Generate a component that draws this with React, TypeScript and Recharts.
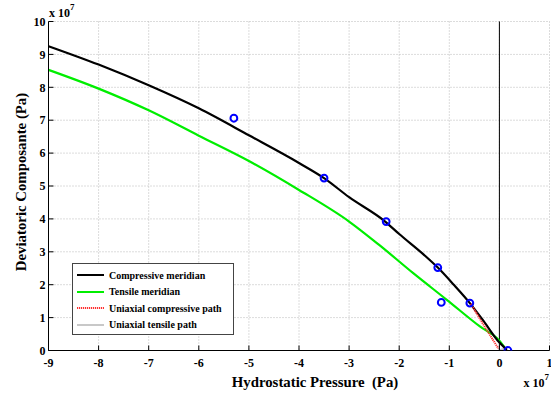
import React from 'react';
import {
  ComposedChart,
  Line,
  Scatter,
  XAxis,
  YAxis,
  CartesianGrid,
  ReferenceLine,
  Label,
} from 'recharts';

// Hydrostatic pressure (x 1e7 Pa) / deviatoric component (x 1e7 Pa)
const compressiveX = [-9, -8, -7, -6, -5, -4, -3.5, -3, -2.28, -2, -1.5, -1.23, -0.9, -0.59, -0.3, 0, 0.15];
const compressiveY = [9.25, 8.69, 8.06, 7.36, 6.54, 5.7, 5.24, 4.66, 3.92, 3.54, 2.9, 2.52, 1.98, 1.44, 0.86, 0.24, 0.02];

const tensileX = [-9, -8, -7, -6, -5, -4, -3, -2.4, -1.72, -1.05, -0.39, 0, 0.11];
const tensileY = [8.53, 7.96, 7.3, 6.53, 5.76, 4.88, 3.92, 3.21, 2.35, 1.54, 0.73, 0.3, 0.08];

const uniCompX = [-0.57, -0.3, -0.02];
const uniCompY = [1.42, 0.74, 0.06];

const uniTenX = [0, 0.1];
const uniTenY = [0, 0.06];

const pointsX = [-5.3, -3.5, -2.26, -1.23, -1.16, -0.59, 0.17];
const pointsY = [7.06, 5.24, 3.92, 2.52, 1.46, 1.44, 0.0];

const xTicks = [-9, -8, -7, -6, -5, -4, -3, -2, -1, 0, 1];
const yTicks = [0, 1, 2, 3, 4, 5, 6, 7, 8, 9, 10];

const legendItems = [
  { label: 'Compressive meridian', color: '#000000', dash: undefined as string | undefined },
  { label: 'Tensile meridian', color: '#00ee00', dash: undefined as string | undefined },
  { label: 'Uniaxial compressive path', color: '#ff3030', dash: '1.2 0.8' },
  { label: 'Uniaxial tensile path', color: '#c8c8c8', dash: undefined as string | undefined },
];

const zip = (xs: number[], ys: number[]) => xs.map((x, i) => ({ x, y: ys[i] }));

const compressive = zip(compressiveX, compressiveY);
const tensile = zip(tensileX, tensileY);
const uniComp = zip(uniCompX, uniCompY);
const uniTen = zip(uniTenX, uniTenY);
const points = zip(pointsX, pointsY);

const FONT = '"Liberation Serif", "Times New Roman", serif';
const tickStyle = { fontWeight: 'bold', fontSize: 12, fill: '#000', fontFamily: 'Liberation Serif' };

export default function App() {
  return (
    <div
      style={{
        position: 'absolute',
        left: 0,
        top: 0,
        width: 551,
        height: 394,
        background: '#fff',
        fontFamily: FONT,
      }}
    >
      <ComposedChart
        width={551}
        height={394}
        margin={{ top: 21.5, right: 1.5, left: 0, bottom: 0 }}
        style={{ fontFamily: FONT }}
      >
        <CartesianGrid stroke="#b8b8b8" strokeDasharray="1 2" />
        <XAxis
          type="number"
          dataKey="x"
          domain={[-9, 1]}
          ticks={xTicks}
          interval={0}
          height={43.5}
          allowDataOverflow
          stroke="#000"
          tickSize={-5}
          tickMargin={12.5}
          tick={tickStyle}
        >
          <Label
            content={(props: any) => {
              const vb = props.viewBox;
              return (
                <g>
                  <text
                    x={vb.x + vb.width / 2 + 16}
                    y={vb.y + 36}
                    textAnchor="middle"
                    style={{ fontFamily: FONT, fontWeight: 'bold', fontSize: 14.8, whiteSpace: 'pre' }}
                    fill="#000"
                  >
                    {'Hydrostatic Pressure  (Pa)'}
                  </text>
                  <text
                    x={vb.x + vb.width - 26}
                    y={vb.y + 36}
                    style={{ fontFamily: FONT, fontWeight: 'bold', fontSize: 12 }}
                    fill="#000"
                  >
                    x 10
                    <tspan dy={-7} style={{ fontSize: 9 }}>7</tspan>
                  </text>
                </g>
              );
            }}
          />
        </XAxis>
        <XAxis
          xAxisId="top"
          orientation="top"
          type="number"
          domain={[-9, 1]}
          ticks={xTicks}
          interval={0}
          height={0}
          allowDataOverflow
          stroke="#000"
          tickSize={-5}
          tickFormatter={() => ''}
        />
        <YAxis
          type="number"
          domain={[0, 10]}
          ticks={yTicks}
          interval={0}
          width={48.5}
          allowDataOverflow
          stroke="#000"
          tickSize={-5}
          tickMargin={8}
          tick={tickStyle}
        >
          <Label
            content={(props: any) => {
              const vb = props.viewBox;
              const cy = vb.y + vb.height / 2 - 4;
              const cx = 21;
              return (
                <g>
                  <text
                    x={cx}
                    y={cy}
                    transform={`rotate(-90, ${cx}, ${cy})`}
                    textAnchor="middle"
                    dominantBaseline="central"
                    style={{ fontFamily: FONT, fontWeight: 'bold', fontSize: 14.8 }}
                    fill="#000"
                  >
                    Deviatoric Composante (Pa)
                  </text>
                  <text
                    x={vb.x + vb.width + 0.5}
                    y={vb.y - 5}
                    style={{ fontFamily: FONT, fontWeight: 'bold', fontSize: 12 }}
                    fill="#000"
                  >
                    x 10
                    <tspan dy={-7} style={{ fontSize: 9 }}>7</tspan>
                  </text>
                </g>
              );
            }}
          />
        </YAxis>
        <YAxis
          yAxisId="right"
          orientation="right"
          type="number"
          domain={[0, 10]}
          ticks={yTicks}
          interval={0}
          width={0}
          allowDataOverflow
          stroke="#000"
          tickSize={-5}
          tickFormatter={() => ''}
        />
        <ReferenceLine x={0} stroke="#000" strokeWidth={1} />
        <Line
          data={uniTen}
          dataKey="y"
          stroke="#c8c8c8"
          strokeWidth={2}
          dot={false}
          isAnimationActive={false}
        />
        <Line
          data={tensile}
          dataKey="y"
          type="monotone"
          stroke="#00ee00"
          strokeWidth={2.2}
          dot={false}
          isAnimationActive={false}
        />
        <Line
          data={compressive}
          dataKey="y"
          type="monotone"
          stroke="#000"
          strokeWidth={2.2}
          dot={false}
          isAnimationActive={false}
        />
        <Line
          data={uniComp}
          dataKey="y"
          stroke="#ff3030"
          strokeWidth={2}
          strokeDasharray="1.2 0.8"
          dot={false}
          isAnimationActive={false}
        />
        <Scatter
          data={points}
          dataKey="y"
          isAnimationActive={false}
          shape={(p: any) => (
            <circle cx={p.cx} cy={p.cy} r={3.4} fill="none" stroke="#0000ff" strokeWidth={2} />
          )}
        />
      </ComposedChart>
      <div
        style={{
          position: 'absolute',
          left: 72,
          top: 263,
          width: 162,
          height: 72,
          boxSizing: 'border-box',
          border: '1px solid #444',
          background: '#fff',
          fontFamily: FONT,
          fontWeight: 'bold',
          fontSize: 10,
          color: '#000',
        }}
      >
        {legendItems.map((it, i) => (
          <div
            key={it.label}
            style={{ position: 'absolute', left: 4, top: 4 + i * 16.6, height: 14, display: 'flex', alignItems: 'center', whiteSpace: 'nowrap' }}
          >
            <svg width={27} height={14} style={{ marginRight: 5 }}>
              <line x1={0} y1={7} x2={27} y2={7} stroke={it.color} strokeWidth={2} strokeDasharray={it.dash} />
            </svg>
            <span>{it.label}</span>
          </div>
        ))}
      </div>
    </div>
  );
}
